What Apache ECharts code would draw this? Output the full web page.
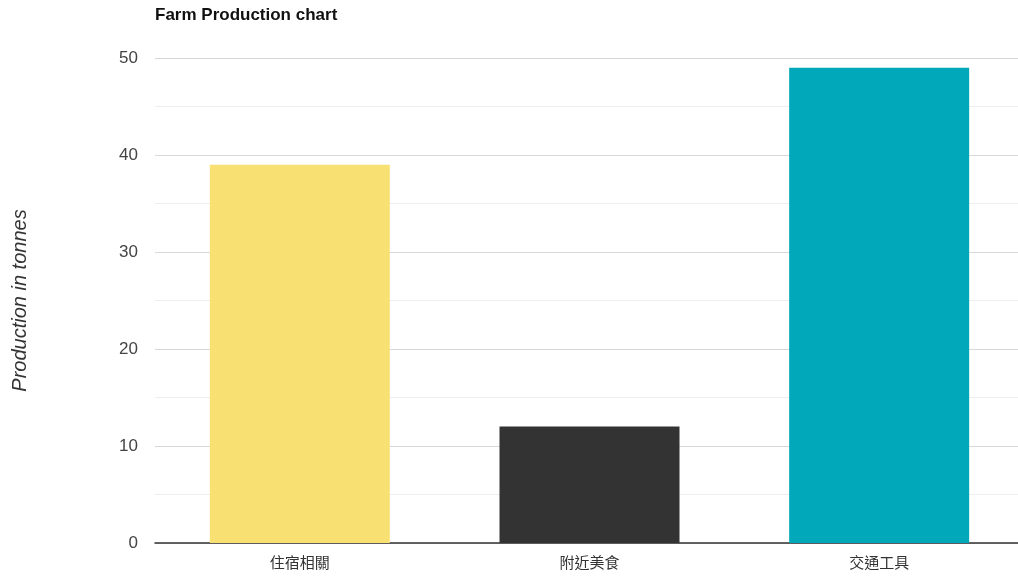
<!DOCTYPE html>
<html><head><meta charset="utf-8">
<script src="https://cdn.jsdelivr.net/npm/echarts@6/dist/echarts.min.js"></script>
<style>html,body{margin:0;padding:0;background:#fff}#c{width:1018px;height:578px}</style>
</head><body><div id="c"></div>
<script>
const categories = ['住宿相關', '附近美食', '交通工具'];
const values = [39, 12, 49];
const barColors = ['#F8E073', '#333333', '#00A8BA'];
const titleText = 'Farm Production chart';
const yAxisName = 'Production in tonnes';

const chart = echarts.init(document.getElementById('c'));
chart.setOption({
  animation: false,
  title: {
    text: titleText, left: 150, top: 2,
    textStyle: { fontFamily: 'Liberation Sans, Arial', fontSize: 17, fontWeight: 'bold', color: '#111' }
  },
  grid: { left: 155, width: 869, top: 58, bottom: 35, outerBoundsMode: 'none', containLabel: false },
  xAxis: {
    type: 'category', data: categories,
    axisLine: { lineStyle: { color: '#333', width: 1.5 } },
    axisTick: { show: false },
    axisLabel: { margin: 12, fontFamily: 'Noto Sans CJK TC', fontSize: 15, color: '#333' }
  },
  yAxis: {
    type: 'value', min: 0, max: 50, interval: 10,
    name: yAxisName, nameLocation: 'middle', nameGap: 125, nameRotate: 90,
    nameTextStyle: { fontFamily: 'Liberation Sans, Arial', fontSize: 20, fontStyle: 'italic', color: '#333' },
    axisLine: { show: false }, axisTick: { show: false },
    axisLabel: { margin: 17, fontFamily: 'Liberation Sans, Arial', fontSize: 17, color: '#444' },
    splitLine: { lineStyle: { color: '#d8d8d8' } },
    minorTick: { show: false, splitNumber: 2 },
    minorSplitLine: { show: true, lineStyle: { color: '#eeeeee' } }
  },
  series: [{
    type: 'bar', barWidth: 180,
    data: values.map((v, i) => ({ value: v, itemStyle: { color: barColors[i] } }))
  }]
});
</script></body></html>
